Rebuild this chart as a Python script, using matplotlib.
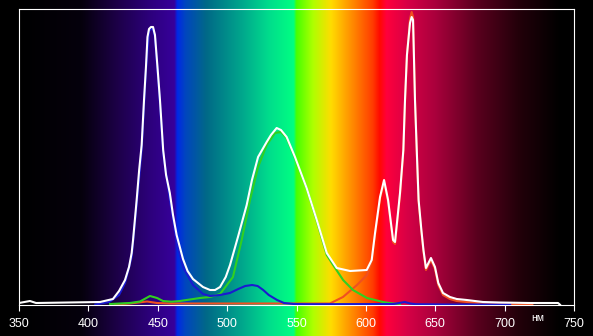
import matplotlib
matplotlib.use("Agg")
import matplotlib.pyplot as plt
import matplotlib.transforms as mtransforms
import numpy as np

# spectrum of the light source, wavelength in nm, relative intensity
white_nm = [350, 357.9, 362.3, 408.4, 417.7, 422.1, 426.4, 429.3, 431.2, 432.2, 434.8, 436.6,
            438.4, 440.1, 441.5, 442.6, 443.7, 445.1, 446.6, 448.0, 449.8, 451.6, 453.9, 456.0,
            458.7, 461.0, 463.6, 468.2, 471.5, 475.4, 482.6, 487.7, 491.3, 494.9, 499.0, 502.1,
            507.8, 514.1, 517.9, 522.3, 528.5, 531.6, 535.7, 538.8, 542.9, 548.9, 557.3, 564.6,
            571.8, 579.0, 588.6, 600.6, 604.2, 606.6, 610.2, 613.1, 616.0, 619.6, 621.0, 624.6,
            627.0, 628.2, 629.6, 631.8, 633.0, 634.0, 635.4, 636.8, 638.0, 640.0, 641.5, 643.3,
            646.9, 649.8, 652.2, 655.6, 660.6, 665.5, 672.7, 684.4, 696.7, 718.3, 738.5, 739.9]
white_val = [2, 4, 2, 3, 6, 14, 25, 38, 52, 65, 105, 135,
             160, 205, 238, 268, 276, 278, 278, 270, 238, 205, 155, 130,
             112, 90, 70, 46, 34, 26, 18, 15, 15, 18, 28, 40,
             68, 100, 125, 148, 163, 170, 177, 175, 168, 148, 117, 85,
             52, 37, 34, 35, 45, 72, 108, 125, 105, 65, 63, 112,
             155, 205, 250, 282, 288, 285, 205, 150, 105, 75, 55, 37,
             47, 38, 22, 12, 8, 6, 5, 3, 2.5, 2, 2, 0.3]

green_nm = [415.6, 430.0, 437.2, 444.4, 449.5, 453.8, 460.0, 466.0, 473.2, 480.5, 487.7, 494.9,
            504.2, 510.5, 516.5, 522.3, 528.5, 534.5, 538.8, 542.9, 548.9, 557.3, 564.6, 571.8,
            576.4, 583.6, 590.7, 600.8, 612.3, 619.5, 624.6]
green_val = [1, 2, 3.5, 9, 7, 4, 3.3, 4, 5.5, 7, 8, 11,
             28, 65, 105, 138, 160, 172, 173, 167, 147, 117, 84, 50,
             40, 25, 15, 7, 3, 1.5, 1]

blue_nm = [405, 415, 422.1, 426.4, 431.2, 434.8, 438.4, 441.5, 443.7, 445.1, 446.6, 448.0,
           449.8, 451.6, 453.9, 458.7, 463.6, 468.2, 475.4, 482.6, 487.7, 494.9, 502.0, 508.0,
           513.0, 518.0, 522.0, 526.0, 530.0, 536.0, 541.0, 548.0, 560.0, 620.0, 628.0, 632.0,
           636.0, 660.0, 704.0]
blue_val = [0.5, 3, 10, 22, 48, 100, 155, 235, 274, 276, 276, 268,
            235, 202, 152, 106, 64, 38, 20, 11, 9, 10, 12, 16,
            19, 20, 19, 15, 10, 5, 2, 1, 0.8, 1, 3, 1.5,
            0.8, 0.5, 0.5]

red_nm = [419, 430, 442.3, 449.5, 458.8, 520, 574.1, 583.5, 593.6, 600.8, 603.7, 606.6,
          610.2, 613.1, 616.0, 619.6, 621.0, 624.6, 627.0, 628.2, 629.6, 631.8, 633.0, 634.0,
          635.4, 636.8, 638.0, 640.0, 641.5, 643.3, 646.9, 649.8, 652.2, 655.6, 660.6, 665.5,
          672.7, 684.4, 700, 720]
red_val = [0.5, 1.5, 3.5, 2, 1.5, 1.5, 1.5, 8, 20, 30, 42, 70,
           106, 123, 103, 63, 61, 110, 153, 203, 250, 286, 293, 288,
           205, 148, 103, 73, 53, 35, 45, 36, 20, 10, 6, 4,
           3, 1.5, 0.8, 0.5]

ticks = [350, 400, 450, 500, 550, 600, 650, 700, 750]

# colours of the rainbow backdrop
bg_nm = [330, 350, 395, 420, 445, 462, 464, 470, 485, 510, 530, 548, 550, 562, 575, 590,
         605, 610, 615, 630, 650, 680, 710, 740, 770]
bg_rgb = [(0, 0, 0), (0, 0, 0), (5, 0, 12), (28, 0, 70), (45, 0, 125), (55, 0, 155),
          (0, 40, 230), (0, 70, 190), (0, 105, 135), (0, 165, 140), (0, 220, 140),
          (0, 255, 130), (70, 255, 0), (175, 255, 0), (255, 220, 0), (255, 140, 0),
          (255, 60, 0), (255, 10, 0), (255, 0, 60), (215, 0, 70), (170, 0, 60),
          (90, 0, 30), (35, 0, 10), (0, 0, 0), (0, 0, 0)]

W, H = 593, 336
left, right, top, bottom = 19, 574, 9, 305
fig = plt.figure(figsize=(W / 100, H / 100), dpi=100)
fig.patch.set_facecolor("black")

px_per_nm = (right - left) / 400
lo = 350 - left / px_per_nm
hi = 750 + (W - right) / px_per_nm

xs = np.linspace(lo, hi, 1200)
rgb = np.array(bg_rgb) / 255.0
img = np.stack([np.interp(xs, bg_nm, rgb[:, c]) for c in range(3)], axis=-1)[None, :, :]
bg = fig.add_axes([0, 0, 1, 1])
bg.imshow(img, aspect="auto", extent=[lo, hi, 0, 1], interpolation="bilinear")
bg.set_axis_off()

ax = fig.add_axes([left / W, 1 - bottom / H, (right - left) / W, (bottom - top) / H])
ax.patch.set_alpha(0)
ax.plot(red_nm, red_val, color="#f05020", lw=1.5, zorder=2)
ax.plot(green_nm, green_val, color="#30d020", lw=1.5, zorder=3)
ax.plot(blue_nm, blue_val, color="#1a1ad0", lw=1.5, zorder=4)
ax.plot(white_nm, white_val, color="white", lw=1.5, zorder=5)

ax.set_xlim(350, 750)
ax.set_ylim(0, bottom - top)
ax.set_yticks([])
ax.set_xticks(ticks)
ax.tick_params(axis="x", colors="white", length=4.5, width=0.8, pad=5,
               labelsize=9)
for lab in ax.get_xticklabels():
    lab.set_fontfamily("Liberation Sans")
for s in ax.spines.values():
    s.set_color("white")
    s.set_linewidth(0.8)

trans = mtransforms.blended_transform_factory(ax.transData, ax.transAxes)
ax.text(724, -0.045, "нм", transform=trans, color="white", fontsize=7.5,
        family="Liberation Sans", ha="center", va="center")

fig.savefig("out.png", dpi=100, facecolor=fig.get_facecolor())
